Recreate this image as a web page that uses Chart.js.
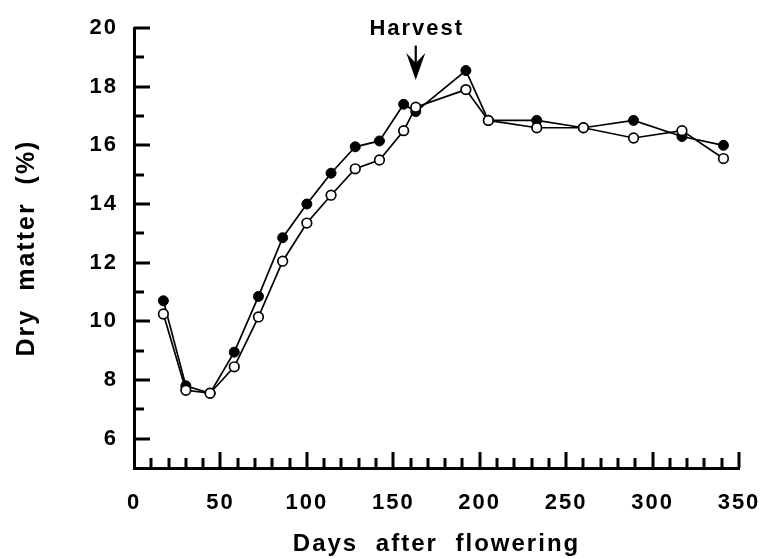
<!DOCTYPE html>
<html><head><meta charset="utf-8">
<script src="https://cdn.jsdelivr.net/npm/chart.js@4.4.0/dist/chart.umd.min.js"></script>
<style>html,body{margin:0;padding:0;background:#fff;}#wrap{width:764px;height:559px;}</style>
</head><body><div id="wrap"><canvas id="c" width="764" height="559"></canvas></div>
<script>
// ---- data ----
const days = [17, 30, 44, 58, 72, 86, 100, 114, 128, 142, 156, 163, 192, 205, 233, 260, 289, 317, 341];
const filledValues = [10.7, 7.8, 7.55, 8.95, 10.85, 12.85, 14.0, 15.05, 15.95, 16.15, 17.4, 17.15, 18.55, 16.85, 16.85, 16.6, 16.85, 16.3, 16.0];
const openValues = [10.25, 7.65, 7.55, 8.45, 10.15, 12.05, 13.35, 14.3, 15.2, 15.5, 16.5, 17.3, 17.9, 16.85, 16.6, 16.6, 16.25, 16.5, 15.55];
const xTickLabels = [0, 50, 100, 150, 200, 250, 300, 350];
const xMinorTicks = [10, 20, 30, 40, 60, 70, 80, 90, 110, 120, 130, 140, 160, 170, 180, 190, 210, 220, 230, 240, 260, 270, 280, 290, 310, 320, 330, 340];
const yTickLabels = [6, 8, 10, 12, 14, 16, 18, 20];
const yMinorTicks = [7, 9, 11, 13, 15, 17, 19];
const harvestDay = 163;
const harvestText = 'Harvest';
const xTitle = 'Days after flowering';
const yTitle = 'Dry matter (%)';

const FONT = '"Liberation Sans", Arial, Helvetica, sans-serif';
Chart.defaults.font.family = FONT;
Chart.defaults.color = '#000';

const setSpacing = ctx => { ctx.letterSpacing = '2px'; ctx.wordSpacing = '9px'; };
const spacing = {
  id: 'spacing',
  beforeLayout(chart) { setSpacing(chart.ctx); },
  beforeDraw(chart) { setSpacing(chart.ctx); }
};

const inwardTicks = {
  id: 'inwardTicks',
  afterDraw(chart) {
    const xs = chart.scales.x, ys = chart.scales.y, a = chart.chartArea, ctx = chart.ctx;
    ctx.save();
    ctx.strokeStyle = '#000';
    ctx.lineWidth = 3;
    ctx.lineCap = 'butt';
    const seg = (x1, y1, x2, y2) => { ctx.beginPath(); ctx.moveTo(x1, y1); ctx.lineTo(x2, y2); ctx.stroke(); };
    xTickLabels.forEach(v => { if (v === 0) return; const p = Math.round(xs.getPixelForValue(v)); seg(p, a.bottom, p, a.bottom - 16); });
    xMinorTicks.forEach(v => { const p = Math.round(xs.getPixelForValue(v)); seg(p, a.bottom, p, a.bottom - 10); });
    yTickLabels.forEach(v => { const p = Math.round(ys.getPixelForValue(v)); seg(a.left, p, a.left + 16, p); });
    yMinorTicks.forEach(v => { const p = Math.round(ys.getPixelForValue(v)); seg(a.left, p, a.left + 10, p); });

    // Harvest annotation
    const hx = xs.getPixelForValue(harvestDay);
    ctx.fillStyle = '#000';
    ctx.letterSpacing = '2px';
    ctx.font = 'bold 22px ' + FONT;
    ctx.textAlign = 'center';
    ctx.textBaseline = 'alphabetic';
    ctx.fillText(harvestText, hx + 1, ys.getPixelForValue(19.76));
    const top = ys.getPixelForValue(19.4), tip = ys.getPixelForValue(18.23);
    ctx.lineWidth = 2.2;
    seg(hx, top, hx, tip - 10);
    ctx.beginPath();
    ctx.moveTo(hx, tip);
    ctx.lineTo(hx - 9.5, tip - 27);
    ctx.lineTo(hx, tip - 17);
    ctx.lineTo(hx + 9.5, tip - 27);
    ctx.closePath();
    ctx.fill();
    ctx.restore();
  }
};

const toPts = vals => days.map((d, i) => ({ x: d, y: vals[i] }));

new Chart(document.getElementById('c'), {
  type: 'scatter',
  data: {
    datasets: [
      { label: 'open', data: toPts(openValues), showLine: true, order: 0,
        borderColor: '#000', borderWidth: 1.7, backgroundColor: '#fff',
        pointBackgroundColor: '#fff', pointBorderColor: '#000', pointBorderWidth: 1.7, pointRadius: 4.8, tension: 0 },
      { label: 'filled', data: toPts(filledValues), showLine: true, order: 1,
        borderColor: '#000', borderWidth: 1.7, backgroundColor: '#000',
        pointBackgroundColor: '#000', pointBorderColor: '#000', pointBorderWidth: 1, pointRadius: 5, tension: 0 }
    ]
  },
  options: {
    responsive: false, animation: false, devicePixelRatio: 1,
    layout: { padding: { top: 28, right: 25, left: 0, bottom: 0 } },
    plugins: { legend: { display: false }, tooltip: { enabled: false } },
    scales: {
      x: {
        type: 'linear', min: 0, max: 350,
        afterBuildTicks: s => { s.ticks = xTickLabels.map(v => ({ value: v })); },
        afterFit: s => { s.height = 91; s.paddingLeft = 0; s.paddingRight = 0; },
        grid: { display: false, drawTicks: false },
        border: { display: true, color: '#000', width: 3 },
        ticks: { color: '#000', font: { size: 22, weight: 'bold' }, padding: 22, maxRotation: 0, autoSkip: false },
        title: { display: true, text: xTitle, color: '#000', font: { size: 24, weight: 'bold' }, padding: { top: 0, bottom: 0 } }
      },
      y: {
        type: 'linear', min: 5, max: 20,
        afterBuildTicks: s => { s.ticks = yTickLabels.map(v => ({ value: v })); },
        afterFit: s => { s.width = 134; s.paddingTop = 0; s.paddingBottom = 0; },
        grid: { display: false, drawTicks: false },
        border: { display: true, color: '#000', width: 3 },
        ticks: { color: '#000', font: { size: 22, weight: 'bold' }, padding: 16, autoSkip: false },
        title: { display: true, text: yTitle, color: '#000', font: { size: 25, weight: 'bold' }, padding: { top: 12, bottom: 0 } }
      }
    }
  },
  plugins: [spacing, inwardTicks]
});
</script></body></html>
